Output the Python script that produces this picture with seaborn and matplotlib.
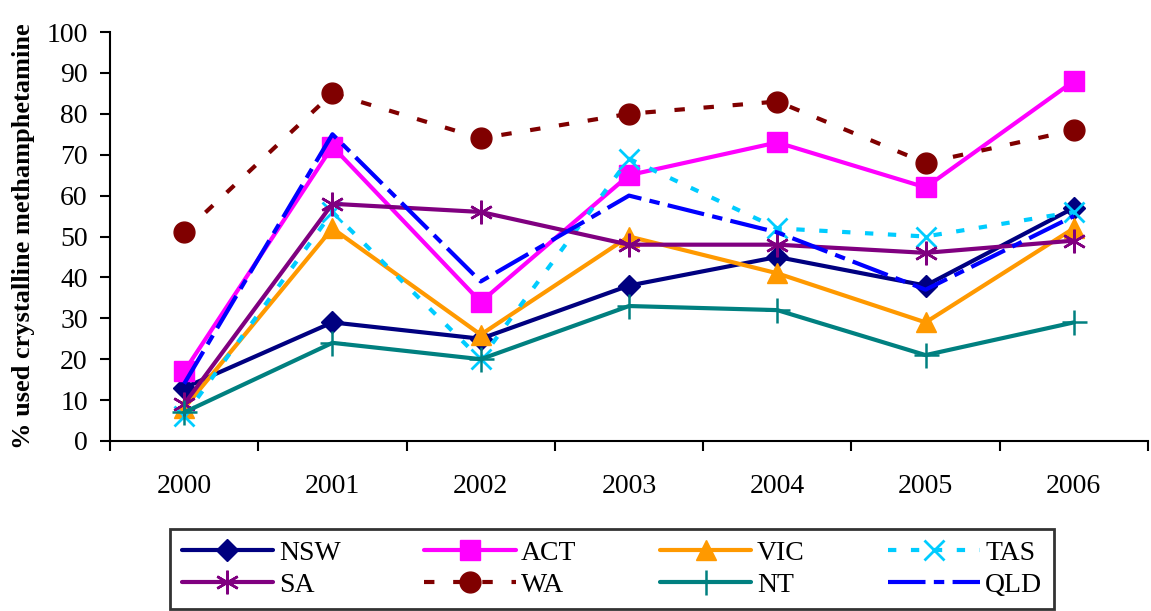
import numpy as np
import pandas as pd
import matplotlib
matplotlib.use("Agg")
import matplotlib.pyplot as plt
import seaborn as sns

years = ["2000", "2001", "2002", "2003", "2004", "2005", "2006"]
states = ["NSW", "ACT", "VIC", "TAS", "SA", "WA", "NT", "QLD"]

nsw = [13, 29, 25, 38, 45, 38, 57]
act = [17, 72, 34, 65, 73, 62, 88]
vic = [8, 52, 26, 50, 41, 29, 52]
tas = [6, 56, 20, 69, 52, 50, 56]
sa = [9, 58, 56, 48, 48, 46, 49]
wa = [51, 85, 74, 80, 83, 68, 76]
nt = [7, 24, 20, 33, 32, 21, 29]
qld = [14, 75, 39, 60, 51, 37, 55]

values = {"NSW": nsw, "ACT": act, "VIC": vic, "TAS": tas,
          "SA": sa, "WA": wa, "NT": nt, "QLD": qld}

rows = []
for s in states:
    for i, y in enumerate(years):
        rows.append({"state": s, "pos": i, "year": y, "pct": values[s][i]})
df = pd.DataFrame(rows)

sns.set_theme(style="white")
plt.rcParams["font.family"] = ["Liberation Serif", "DejaVu Serif"]
plt.rcParams["text.color"] = "black"
plt.rcParams["axes.labelcolor"] = "black"
plt.rcParams["xtick.color"] = "black"
plt.rcParams["ytick.color"] = "black"

styles = {
    "NSW": dict(color="#000080", marker="D", ms=11, ls="-"),
    "ACT": dict(color="#FF00FF", marker="s", ms=14, ls="-"),
    "VIC": dict(color="#FF9900", marker="^", ms=15, ls="-"),
    "TAS": dict(color="#00CCFF", marker="x", ms=14, mew=2, ls=(0, (2, 3.5))),
    "SA": dict(color="#800080", marker=(6, 2, 0), ms=17, mew=1.8, ls="-"),
    "WA": dict(color="#800000", marker="o", ms=15, ls=(0, (2.5, 4.5))),
    "NT": dict(color="#008080", marker="+", ms=18, mew=1.8, ls="-"),
    "QLD": dict(color="#0000FF", marker=None, ms=0, ls=(0, (9, 2, 2.5, 2))),
}

fig = plt.figure(figsize=(11.51, 6.11), dpi=100)
ax = fig.add_axes([110 / 1151, 1 - 441 / 611, (1148 - 110) / 1151, (441 - 32) / 611])

handles = {}
for s in states:
    st = styles[s]
    sub = df[df["state"] == s]
    sns.lineplot(data=sub, x="pos", y="pct", ax=ax, color=st["color"],
                 linewidth=3, marker=st["marker"], markersize=st["ms"],
                 markeredgewidth=st.get("mew", 1), markeredgecolor=st["color"],
                 dashes=False, linestyle=st["ls"], label=s, legend=False)
    handles[s] = ax.lines[-1]

ax.set_xlim(-0.5, 6.5)
ax.set_ylim(0, 100)
ax.set_yticks(np.arange(0, 101, 10))
ax.set_xticks(range(len(years)))
ax.set_xticklabels(years)
ax.set_xticks(np.arange(-0.5, 6.6, 1), minor=True)
ax.tick_params(axis="x", which="major", length=0, pad=24, labelsize=20)
ax.tick_params(axis="x", which="minor", length=7, width=1.5, direction="out",
               color="black", bottom=True)
ax.tick_params(axis="y", length=7, width=1.5, direction="out", color="black",
               pad=9, labelsize=20, left=True)
ax.set_xlabel("")
ax.set_ylabel("% used crystalline methamphetamine", fontsize=19, fontweight="bold", labelpad=8)
for side in ["top", "right"]:
    ax.spines[side].set_visible(False)
for side in ["left", "bottom"]:
    ax.spines[side].set_color("black")
    ax.spines[side].set_linewidth(1.5)

order = ["NSW", "SA", "ACT", "WA", "VIC", "NT", "TAS", "QLD"]
leg = fig.legend([handles[s] for s in order], order, ncol=4, loc="center",
                 bbox_to_anchor=(612 / 1151, 1 - 569 / 611), fontsize=20,
                 frameon=True, fancybox=False, edgecolor="black",
                 handlelength=3.3, handletextpad=0.2, columnspacing=3.0,
                 labelspacing=0.25, borderpad=0.4, borderaxespad=0)
leg.get_frame().set_linewidth(2)

fig.savefig("out.png", dpi=100)
